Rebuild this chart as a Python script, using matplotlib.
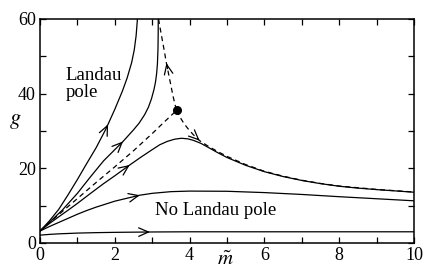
import numpy as np
import matplotlib
matplotlib.use("Agg")
import matplotlib.pyplot as plt

plt.rcParams['font.family'] = ['Liberation Serif', 'DejaVu Serif']
plt.rcParams['mathtext.fontset'] = 'stix'

# flow lines, (m, g) pairs
m_flat = [0, 0.25, 0.5, 1, 1.5, 2, 3, 4, 6, 8, 10]
g_flat = [2.1, 2.3, 2.45, 2.65, 2.77, 2.85, 2.95, 3.0, 3.0, 3.0, 3.0]

m_low = [0, 0.25, 0.5, 0.75, 1, 1.25, 1.5, 2, 2.5, 2.67, 3, 3.5, 4, 5, 6, 7, 8, 9, 10]
g_low = [3.2, 4.4, 5.5, 6.6, 7.7, 8.7, 9.6, 11.2, 12.4, 12.8, 13.3, 13.75, 13.9, 13.85, 13.5, 13.0, 12.4, 11.85, 11.3]

m_peak = [0, 0.25, 0.5, 0.76, 1, 1.34, 1.7, 2.0, 2.4, 2.7, 3, 3.2, 3.4, 3.6, 3.78, 3.95,
          4.1, 4.3, 4.5, 4.75, 5, 5.5, 6, 6.5, 7, 7.5, 8, 8.5, 9, 9.5, 10]
g_peak = [3.2, 5.2, 7.0, 8.85, 10.6, 13.2, 15.9, 18.0, 20.9, 23.0, 25.0, 26.3, 27.2, 27.8, 28.05, 27.9,
          27.5, 26.7, 25.6, 24.2, 22.9, 20.8, 19.1, 17.8, 16.75, 15.9, 15.2, 14.7, 14.3, 13.95, 13.6]

m_pole1 = [0, 0.3, 0.6, 1.0, 1.34, 1.7, 2.0, 2.22, 2.5, 2.65, 2.8, 2.9, 2.98, 3.05, 3.09,
           3.12, 3.14, 3.155, 3.16, 3.162]
g_pole1 = [3.2, 6.0, 8.85, 13.3, 17.6, 22.0, 25.0, 27.2, 30.3, 32.1, 34.4, 36.4, 38.6, 41.2, 43.2,
           45.5, 48.0, 52.0, 56.0, 60.0]

m_pole2 = [0, 0.25, 0.5, 0.75, 1.0, 1.25, 1.5, 1.75, 1.82, 2.0, 2.2, 2.33, 2.45, 2.52, 2.57, 2.605]
g_pole2 = [3.2, 5.9, 9.0, 12.9, 17.0, 21.3, 25.5, 30.3, 31.8, 35.8, 40.6, 44.2, 48.3, 51.7, 55.5, 60.0]

# separatrices (dashed) and the fixed point
m_sep_in = [0, 0.5, 1, 1.5, 2, 2.5, 2.76, 3, 3.3, 3.65]
g_sep_in = [3.2, 7.6, 11.9, 16.2, 20.4, 24.7, 27.1, 29.3, 32.2, 35.5]

m_sep_up = [3.17, 3.24, 3.31, 3.38, 3.46, 3.56, 3.65]
g_sep_up = [60, 56, 52.2, 48.2, 44.2, 39.2, 35.5]

m_sep_down = [3.65, 3.75, 3.85, 3.95, 4.1, 4.27, 4.5, 4.75, 5.0, 5.5, 6, 6.5, 7, 7.5, 8, 9, 10]
g_sep_down = [35.5, 33.6, 32.0, 30.7, 29.0, 27.4, 25.9, 24.5, 23.2, 21.0, 19.2, 17.9, 16.8, 15.95, 15.25, 14.35, 13.65]

m_fixed, g_fixed = 3.65, 35.5

fig = plt.figure(figsize=(4.25, 2.69), dpi=100)
ax = fig.add_axes([0.0941, 0.0967, 0.88, 0.8327])

lw = 0.9
for ms, gs in [(m_flat, g_flat), (m_low, g_low), (m_peak, g_peak),
               (m_pole1, g_pole1), (m_pole2, g_pole2)]:
    ax.plot(ms, gs, color='k', lw=lw, solid_joinstyle='round')

for ms, gs in [(m_sep_in, g_sep_in), (m_sep_up, g_sep_up), (m_sep_down, g_sep_down)]:
    ax.plot(ms, gs, color='k', lw=lw, dashes=(4, 3))

ax.plot([m_fixed], [g_fixed], 'o', color='k', ms=5.5)


def arrow_on(ms, gs, m_tip, back):
    g_tip = np.interp(m_tip, ms, gs)
    m_tail = m_tip - back
    g_tail = np.interp(m_tail, ms, gs)
    ax.annotate('', xy=(m_tip, g_tip), xytext=(m_tail, g_tail),
                arrowprops=dict(arrowstyle='->,head_length=0.5,head_width=0.22',
                                lw=lw, color='k', shrinkA=0, shrinkB=0,
                                mutation_scale=14))


arrow_on(m_flat, g_flat, 2.94, 0.1)
arrow_on(m_low, g_low, 2.67, 0.1)
arrow_on(m_peak, g_peak, 2.4, 0.05)
arrow_on(m_pole1, g_pole1, 2.22, 0.05)
arrow_on(m_pole2, g_pole2, 1.82, 0.04)
arrow_on(m_sep_up, g_sep_up, 3.38, -0.03)
arrow_on(m_sep_down, g_sep_down, 4.27, 0.05)

ax.text(0.69, 43.7, 'Landau', fontsize=13.5, va='baseline', ha='left')
ax.text(0.69, 39.2, 'pole', fontsize=13.5, va='baseline', ha='left')
ax.text(3.07, 7.5, 'No Landau pole', fontsize=13.5, va='baseline', ha='left')

ax.set_xlim(0, 10)
ax.set_ylim(0, 60)
ax.set_xticks([0, 2, 4, 6, 8, 10])
ax.set_xticks([1, 3, 5, 7, 9], minor=True)
ax.set_yticks([0, 20, 40, 60])
ax.set_yticks([10, 30, 50], minor=True)
ax.tick_params(which='both', direction='in', top=True, right=True,
               length=4, width=0.9, labelsize=13, pad=3)
for s in ax.spines.values():
    s.set_linewidth(1.1)

ax.set_xlabel(r'$\tilde{m}$', fontsize=15)
ax.set_ylabel(r'$g$', fontsize=16, rotation=0)
ax.xaxis.set_label_coords(0.495, -0.035)
ax.yaxis.set_label_coords(-0.065, 0.5)

fig.savefig('out.png', dpi=100)
